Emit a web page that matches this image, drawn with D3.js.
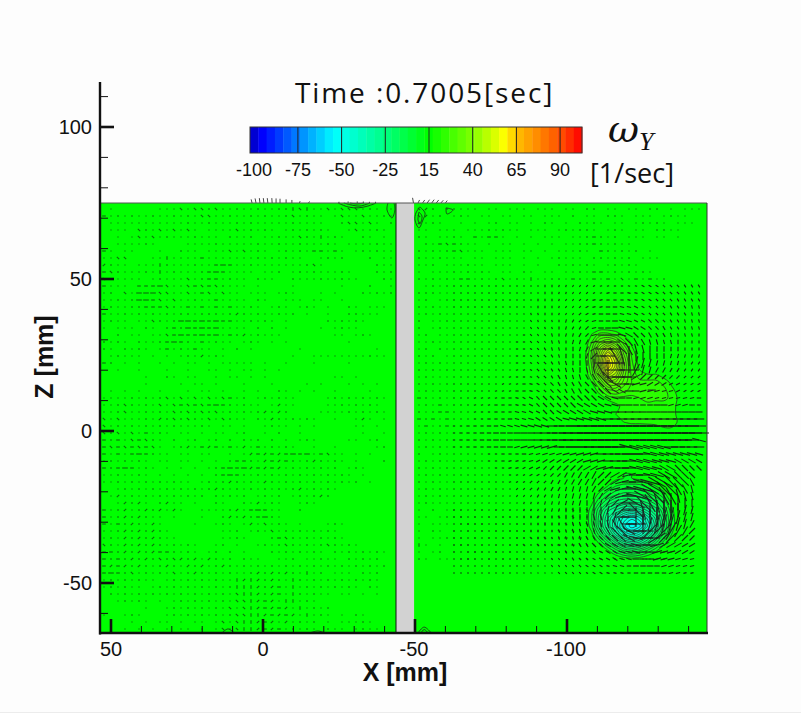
<!DOCTYPE html>
<html><head><meta charset="utf-8">
<style>html,body{margin:0;background:#fdfdfd}svg{display:block}text{fill:#111}</style>
<script src="https://cdnjs.cloudflare.com/ajax/libs/d3/7.8.5/d3.min.js"></script>
</head><body><svg id="c" width="801" height="713"></svg>
<script>
const titleText = "Time :0.7005[sec]";
const xTickValues = [50, 0, -50, -100];
const zTickValues = [100, 50, 0, -50];
const xMinorValues = [40,30,20,10,-10,-20,-30,-40,-60,-70,-80,-90,-110,-120,-130,-140];
const zMinorValues = [110,90,80,70,60,40,30,20,10,-10,-20,-30,-40,-60];
const legendValues = [-102,-75,-50,-25,0,25,50,75];
const legendLabels = ["-100","-75","-50","-25","15","40","65","90"];
const colorStops = [-102,-95,-75,-54,-25,0,25,43,50,75,87];
const colorValues = ["#0000c0","#0000ff","#0080ff","#00ffff","#00ff80","#00ff00","#80ff00","#ffff00","#ffc000","#ff5000","#ff0000"];

// vorticity; columns and rows step 2.63 mm
const upperVortexOmega = [
[0,0,0,0,0,0,0,0,0,0,0,0,0,0],
[0,4,8,8,6,3,0,0,0,0,0,0,0,0],
[0,7,16,20,16,8,3,0,0,0,0,0,0,0],
[1,10,24,34,26,14,5,1,0,0,0,0,0,0],
[2,11,28,44,34,18,7,2,0,0,0,0,0,0],
[1,10,26,46,36,20,8,3,1,0,0,0,0,0],
[0,8,20,36,30,18,9,5,4,4,2,0,0,0],
[0,4,12,22,22,15,10,8,8,8,6,3,0,0],
[0,1,6,12,14,11,9,9,10,10,8,5,2,0],
[0,0,2,5,6,6,6,7,8,8,8,6,3,0],
[0,0,0,1,3,5,6,6,6,5,5,5,3,0],
[0,0,0,1,4,6,7,6,5,4,5,5,3,0],
[0,0,0,1,3,4,5,5,5,5,6,6,3,0],
[0,0,0,0,0,0,0,0,1,2,3,3,1,0]];
const lowerVortexOmega = [
[0,0,0,-1,-3,-4,-4,-3,-2,-1,0,0,0],
[0,0,-1,-4,-7,-8,-8,-8,-6,-4,-2,0,0],
[0,-1,-5,-9,-12,-14,-14,-13,-11,-8,-5,-1,0],
[0,-3,-10,-16,-20,-22,-22,-21,-18,-14,-9,-3,0],
[0,-6,-16,-24,-28,-32,-34,-32,-27,-21,-13,-5,0],
[0,-7,-18,-28,-36,-44,-48,-44,-36,-27,-16,-6,0],
[0,-6,-18,-28,-38,-48,-54,-50,-40,-29,-17,-6,0],
[0,-3,-12,-22,-32,-40,-44,-40,-32,-23,-13,-4,0],
[0,-1,-5,-12,-20,-27,-30,-28,-22,-14,-6,-1,0],
[0,0,-1,-4,-9,-14,-16,-14,-10,-5,-1,0,0],
[0,0,0,0,-1,-3,-4,-3,-1,0,0,0,0],
[0,0,0,0,0,0,0,0,0,0,0,0,0]];
const upperOrigin = [-105.5, 34.5];
const lowerOrigin = [-105.5, -15.5];
const omegaLevels = [4,7,10,13,16,19,22,25,28,31,34,37,40,43,46,49,52];

// small contours at the plate and the walls, [X mm, Z mm]
const edgeContours = [
[[-24.7,75],[-28,73.7],[-31.3,73.4],[-34.5,74],[-37.2,75]],
[[-26.6,75],[-29.3,74.3],[-31.9,74],[-35.2,75]],
[[-28.6,75],[-30.9,74.7],[-33.2,75]],
[[-41.1,75],[-40.8,72.7],[-42.4,70.1],[-43.4,72.7],[-43.1,75]],
[[-51.6,73.7],[-50.3,71.7],[-50,69.4],[-51.3,66.8],[-52.6,69.4],[-53.3,71.7],[-51.6,73.7]],
[[-51.3,72],[-51,69.4],[-51.6,68.1],[-52.3,70.7],[-51.3,72]],
[[-60.2,73.4],[-62.5,72.7],[-60.5,71.4],[-60.2,73.4]],
[[13.5,-66.4],[11.5,-65.1],[9.5,-66.4]],
[[-15.5,-66.4],[-18,-65.8],[-20.5,-66.4]],
[[-51,-66.4],[-53,-64.5],[-55.3,-66.4]],
[[-52,-66.4],[-53,-65.3],[-54.3,-66.4]]];

// vectors clipped at the top edge of the window
const rimX = [3.6,2.3,1,-.3,-1.6,-3,-4.3,-5.6,-7.6,-9.5,-12,-15,-25,-28,-31,-33,-35,-37,-49.5,-51,-52.5,-54,-55.5,-57,-58.5,-60];
const rimU = [.3,.3,.2,.2,.2,.1,0,0,0,0,-.2,-.3,0,0,0,0,0,0,.3,-.5,-.7,-.8,-.8,-.8,-.8,-.6];
const rimV = [1.2,1.5,1.6,1.6,1.6,1.6,1.5,1.4,1.2,1,.6,.5,.4,.5,.5,.5,.4,.4,1.7,1,1,1.1,1.1,1,.9,.8];

// quiet part of the velocity field, one mark per grid cell
const quietLeft = [
" .      ...`.``:`..:..:..::|`|..`.```.:. .",
"-.:.:..:..:.:.``..:..:.:..:`.:.. .`..`..:.",
" ...........:..:...:.:.....:....  :``.`. :",
" ... `:.`.`.`. ....`.:.:. .:.:.:.  .`..:.",
"  . .`.`.:...:... :..: ..:..`:.|.:.  :. .",
"  ....:.    ....:.....:..:..:...:. ....:..",
"-. ..   .  :.. ...`.`.:. .:.:.--.-. .:.:..",
"..``   ..|....-.......:.:.:..  .:.:   : ..",
"/:.. ...|:...:..-=-..:.......:`.       :..",
"-`:...:.|.:...:-=-.... ..: .:.:...:.   :.:",
"`:.... .:...`.:--.:.. :..  :...:..:..   :.",
"-... ---=`..`-`-`:... .    .      .   :  .",
".: `.===``..`.-`.`.. ... .:.   . .   :.:.:",
"..:.:==-`.`..:..-.... :.  ... ..  .",
".:..::---`:.-.-.-.-..:. .:. .:. .  :. ...",
"-..:.:.:.:.::.:::.:/:.:..:.: .  .  ::...",
".:.. ..`:.:==-=-=--..:.:. .     :.:.:.",
". ... :. :-:=-=-=.... : : .    . .:..",
"  : .. ..`-=--=-=.-:/.:...       .. .:.",
":.:. :..:-=-:.-.:.. .:. . .        .",
":. :.:. .-.:.-.. . : .      .          .",
" .:... . . .:./.:.         .  ........:..",
"-: . .  . . .. . ..... .  .   .    .",
"  .  .   .  .  .. . .. . .",
"      .  :. ..  . .. . .         .. .",
"      .    . .. .   .   .    . .   . . .",
" . . .  .   . .. .  . .  :. . .  .    .  ",
"....:.:.:`.`.`.`.`-.: .:.:..    .:.:.:.:.",
"..:`:.:.`.`-`-`-=-:.:.. ./..    ..:.:.:. ",
"..:`..:.:.`:`:`:`.:.:.:/:/:    ....:.:.:.",
"`.`...:./:`:`:.`.`:.. :./:.:.:.  .  ./. .",
"`.:.:.:.:.:...:. .. .  .:.. . .     .. . ",
"`:`.`.-.:. .. . .. .:  . :  .        .  .",
"-:-.`-`:. : .: .: : :.: : . .:.    .. .: ",
"-`-`-`-`. .:/.-/-.-./.-.:.:.  .  .     .:",
"-.-.-=-:.. .. ..  . ./-/-/-=-=.-`.. . .",
".:.:.:. .. .. . . :--:./-/-:.:/:.:. .   :",
"-:-=-.:. . . . .:-=-=/-/-/.:.:.:.: .:.   ",
"..:..:. . . . . :-=-:.:.:.:.:.:.:.:. .",
"..:.:.:.:.:.. .:.:/:.:./:.:.:.:.:.:.: .",
"  .:.:.:.:.:.:.:/:.:.:.:.:.:/.:.:.",
" ./.:.:.:.:.:.: :.:.: .:.: .:.:/:",
"  ./:/. :/.. .  :.  :./.:.  .:.",
"-.:/.:/:/./.  ....:/.-=-..  :",
"-.:/:/:.. .   .  :/:/:-=:.",
"-.-:/:./.    .  .:. ./.`.:. .   .:.",
"..:/:/:/:.       ..: .:.`.:.:.:.:.",
".:./:/:/:..      ..:.   :-`:.:.:.:.",
"`:./:/:/:.:.:.  .: .  .:.:`:.:.:`:.:.",
"--:/:/:/--:.:. .: : .   :.:.:.:. :.:.:.:.",
"-:-:/:/:`:`/:/./:.: :..  ..: ..:.. :.:.:",
"-/-/:/:.:/:./:/.:/:.:.:.:.:.:.:.:.:.:.:.:",
"-=-:`.:.:.`.:/:.:.:..:/:/:/:.|.: ... :.:",
".:.:.:.. .:.:.:.:..|/|/:/:.|:.:.:.:.:.:.",
".:.:.. .:.:.:.:.:.:|||/:/-.|.:.:.:.:. :.",
" :.:.:.:.:.:.:.:.:.`||/:/-.|:.:.. .. . .",
"  .:.:. . .:.:.:.:.``|/-/.||.:.",
"      .  .:.:.:.:.`.`|/-/-/.|.:.:",
".  .:.   .:.:.:.:.:``||/-/-/.|.:. . :.",
" .  . . .. . .. .`.`||/-/./.:.: . ...:.",
" . . . . . .. . .`.`||/-/-.:.:. :.. .:.."];
const quietRight = [
"`/: ::... .. ... ... .. :: .. .. :: . ...",
"`/.: .:. .. .. .. ... : .. ::. ... .:..",
"/.:.  . . .: .. . :. . :.:. .. .:.:. ...",
".. ... ...:.:.. ... .:.::. .:. .. ::..",
":. ..:. -.--. . . ... ..:-:.: ... .. .",
" :.-`-:.. . .. . . . ..::-:.:..",
":.:.:-`... ... .. . ...:. -:.:.: .",
":..:... .. ... . . .:... ::.:.: ...",
"..: ...:.. ... . .  :.:.:. .:.:.",
". ...:.:.:. .. :. .. ..:.--.:.:.:.",
":.:.:.--.:.:`.:.|..::.-:.-.-.`.-.-.:",
" .:.:",":::..",".: .:",":.:..",".:.:.",": ..:",": .:.",".: ..","..:..",".: :.",
":.: .",".:.:.",":.:.:",".:...",":.:.:",".:.:.","-:.:.",".:.-.",":.:--","-:-.-",
".-.:-",".:.:.",":.:.:",".:.:.",": .:.",".:.:.",":.:.:",".:.:.",":.:..",".:.:.",".:.:.",
".:...",
". : .:. .. : . .. . .:`.`:.:.:/:/:.:.:.:",
".. .:.: . . .. .:/..`.`.:.:.:/:/:.:.:.",
". ... .:.: .. .. .|.:`:.`.:.:.:./.:.:.",
". :. . . . . ..:.. .`.`.:.:.:.:.:.:.",
". ..:.. . . . ::`:`.:-.-.:.:.:.:.:.:",
"|. . .:. . . ..`.`:.-.-.:.:.:. :.:.:",
". .: . .:. : . .: . .:. .:.:. .:.:.:.",
":. .. .:. . . .. . . : .: . :.. ...:"];

// strong part of the field: orientation in 15 degree steps (hex), then length class
const flowOrient = [
"66666 666666 666655 443211 00bbaa a99988 8",
"66666 666666 666655 443211 00bbaa a99988 8",
"66666 666666 666654 432110 00bbaa 999888 8",
"66666 666666 766654 432110 0bbaa9 998887 7",
"00000 000777 776654 432100 0bbaa9 998887 7",
"00000 000000 877765 432100 0bbaa9 998877 7",
"00000 000000 887765 443100 0bbaa9 988877 7",
"00000 000000 988765 543100 0ba998 887777 6",
"00000 000000 998776 554100 0a9887 777666 6",
"00000 000000 a98776 654200 098776 666666 6",
"00000 000000 a99876 665300 876666 665555 5",
"00000 000000 a99877 666600 066555 555554 4",
"00000 000011 a99887 767786 000455 444444 4",
"00000 001100 b99887 778899 000233 333333 3",
"11111 112110 ba9988 889999 a00112 222222 2",
"11111 111100 ba9998 889999 aa0011 111222 2",
"111 111100 baa999 999999 aab001 111111 11000",
"111 111000 bba999 999aaa abb000 000011 10000",
"000 100000 bbaa99 aaaaab bb0000 000000 00000",
"000 000000 bbbaaa abbbbb b00000 000000 00000",
"000000 0bbbbb bb0000 000000 000000 000000",
"000000 000000 000000 000000 000000 000000",
"000000 000000 000000 000000 000000 00000b",
"000000 000111 111000 000000 0bbbbb b00000",
"00000 000000 111111 111100 00000b bbbbbb b",
"00000 000111 122222 221110 000bbb bbbaaa a",
"00000 000112 223333 332211 000bbb baa999 9",
"0000000 001222 333444 443322 100bba a999",
"1111111 112233 344444 443321 00bbaa 9998",
"2222222 223334 444555 543211 0bbaa9 9887",
"3333333 334444 455555 554321 0ba998 8777",
"4444444 445555 555555 665432 0a9876 6666",
"5555555 555555 555666 666543 097666 6655",
"6666666 666666 666666 677650 066665 5555",
"6666666 666666 666677 777788 006555 5554",
"6666666 666666 667777 778899 a00333 4443",
"6666666 666666 677777 889999 ab0023 3333",
"6666666 666677 777888 899aaa bb0012 2222",
"6666666 666777 778889 99aaab bb0011 1222",
"6666666 666777 788889 9aaaab b00011 1111",
"6666666 666777 888899 aaabbb 000001 1111",
"6666666 667778 889999 aaabbb 000000 1111"];
const flowSpeed = [
"00000 000000 001111 111111 111122 222222 2",
"00000 000000 001111 111112 222222 222222 2",
"00000 000000 011111 111222 222222 222222 2",
"00000 000000 011111 112223 333322 222222 2",
"00000 000000 111111 122233 333322 222222 2",
"00000 000000 111112 222333 444333 322222 2",
"00000 000000 111122 223344 555443 332222 2",
"00000 000001 111222 233455 666544 333222 2",
"00000 000011 111222 334566 777654 433322 2",
"00000 000011 112222 334677 888765 443322 2",
"00000 000011 112223 334678 999765 443322 2",
"00000 000011 112223 344689 909876 443322 2",
"00000 000011 122223 344589 909875 443322 2",
"00000 000111 122233 344578 998765 443322 2",
"00000 001112 222333 344567 887655 443322 2",
"00000 011122 222333 444556 666554 433322 2",
"000 111122 223344 444555 555544 443333 33332",
"000 111222 223344 445555 555554 445544 44333",
"000 111222 333344 455566 666666 555555 55544",
"000 112223 334444 556677 777777 777777 77766",
"112223 344455 667788 899999 999999 999888",
"122233 444555 677889 999999 999999 999999",
"122233 444555 677889 999999 999999 999888",
"112223 344455 667788 889999 998888 888777",
"00000 112223 334445 566677 788888 877777 6",
"00000 112222 334445 556667 778888 777666 5",
"00000 011222 333445 556677 788888 777665 5",
"0000000 011122 233445 566677 888888 8776",
"0000000 011122 233445 566678 889999 9876",
"0000000 001122 233344 455678 899999 9876",
"0000000 001112 223344 455678 899999 9876",
"0000000 000111 222334 455678 899999 9876",
"0000000 000111 222334 455678 899899 9876",
"0000000 000111 122334 455678 898899 9876",
"0000000 000011 122233 445678 899899 9876",
"0000000 000011 112233 445678 899999 9876",
"0000000 000001 112223 344567 889998 8765",
"0000000 000001 111223 344556 778887 7655",
"0000000 000000 111222 233445 566776 6554",
"0000000 000000 011122 223344 455665 5443",
"0000000 000000 011112 222233 344544 4333",
"0000000 000000 001111 122222 233333 3322"];
const speedLengths = [1.3,2.3,3.2,4.4,5.6,7,8.5,10.5,14,20];

const svg = d3.select("#c");
const x = d3.scaleLinear().domain([50,-100]).range([111,567]);
const z = d3.scaleLinear().domain([100,-50]).range([127,583]);
const L=100,R=707,T=z(75),B=633;
const cellMm = 7/3.04;
const color = d3.scaleLinear().domain(colorStops).range(colorValues).interpolate(d3.interpolateRgb);
const leg = d3.scaleLinear().domain([0,25]).range([429,472.7]);

svg.append("rect").attr("y",712).attr("width",801).attr("height",1).attr("fill","#ececec");
const defs = svg.append("defs");
defs.append("clipPath").attr("id","plot").append("rect").attr("x",L).attr("y",T).attr("width",R-L).attr("height",B-T);
svg.append("rect").attr("x",L).attr("y",T).attr("width",R-L).attr("height",B-T).attr("fill","#00ff00");

// filled vorticity bands
const step = 8/3.04;
function ringLine(){return d3.line().x(p=>p[0]).y(p=>p[1]).curve(d3.curveCatmullRomClosed.alpha(.5));}
const linesG=[];
function drawVortex(m,origin,sign){
  const h=m.length,w=m[0].length;
  const flat=m.flat().map(v=>v*sign);
  const cs=d3.contours().size([w,h]).smooth(true).thresholds(omegaLevels)(flat);
  const g=svg.append("g").attr("clip-path","url(#plot)");
  cs.forEach(c=>{
    c.coordinates.forEach(poly=>{
      poly.forEach(ring=>{
        const pts=ring.slice(0,-1).map(p=>[x(origin[0]-(p[0]-.5)*step),z(origin[1]-(p[1]-.5)*step)]);
        if(pts.length<3)return;
        g.append("path").attr("d",ringLine()(pts)).attr("fill",color(sign*(c.value+1.5))).attr("stroke","none");
        linesG.push(ringLine()(pts));
      });
    });
  });
}
drawVortex(upperVortexOmega,upperOrigin,1);
drawVortex(lowerVortexOmega,lowerOrigin,-1);

// plate
svg.append("rect").attr("x",x(-43.75)).attr("y",T).attr("width",x(-49.7)-x(-43.75)).attr("height",B-T-1).attr("fill","#d2d2d2");
svg.append("line").attr("x1",x(-43.75)).attr("x2",x(-43.75)).attr("y1",T).attr("y2",B).attr("stroke","#111").attr("stroke-width",1);

// velocity field
const quietG=svg.append("g").attr("stroke","#111").attr("stroke-width",1.1).attr("stroke-opacity",.62);
const fieldG=svg.append("g").attr("stroke","#111").attr("stroke-width",1.15).attr("stroke-opacity",.85);
const X0=x.invert(104),Z0=z.invert(209);
const quietMarks={".":[0,1.2],":":[0,1.9],"-":[0,3.6],"=":[0,5.6],"/":[45,3.4],"`":[135,3.4],"|":[90,3.6]};
function mark(g,mmX,mmZ,deg,len){
  const cx=x(mmX),cy=z(mmZ),a=deg*Math.PI/180;
  g.append("line").attr("x1",cx-Math.cos(a)*len/2).attr("y1",cy+Math.sin(a)*len/2)
    .attr("x2",cx+Math.cos(a)*len/2).attr("y2",cy-Math.sin(a)*len/2);
}
quietLeft.forEach((row,j)=>[...row].slice(0,42).forEach((ch,i)=>{
  if(quietMarks[ch]) mark(quietG,X0-i*cellMm,Z0-j*cellMm,quietMarks[ch][0],quietMarks[ch][1]);
}));
quietRight.forEach((row,j)=>[...row].slice(0,41).forEach((ch,i)=>{
  if(quietMarks[ch]) mark(quietG,X0-(45+i)*cellMm,Z0-j*cellMm,quietMarks[ch][0],quietMarks[ch][1]);
}));
flowOrient.forEach((row,j)=>{
  const o=row.replace(/ /g,""),s=flowSpeed[j].replace(/ /g,"");
  [...o].slice(0,36).forEach((ch,i)=>{
    mark(fieldG,X0-(50+i)*cellMm,Z0-(11+j)*cellMm,parseInt(ch,16)*15,speedLengths[+s[i]]);
  });
});
// clipped rim vectors
rimX.forEach((v,i)=>{
  fieldG.append("line").attr("x1",x(v)).attr("y1",T).attr("x2",x(v+rimU[i])).attr("y2",z(75+rimV[i])).attr("stroke-width",.9);
});

// contour lines
const cg=svg.append("g").attr("clip-path","url(#plot)").attr("fill","none").attr("stroke","#2a2a2a").attr("stroke-width",1).attr("stroke-opacity",.72);
linesG.forEach(d=>cg.append("path").attr("d",d));
const el=d3.line().x(p=>x(p[0])).y(p=>z(p[1])).curve(d3.curveCatmullRom);
const eg=svg.append("g").attr("fill","none").attr("stroke","#1c3a1c").attr("stroke-width",.9);
edgeContours.forEach(c=>eg.append("path").attr("d",el(c)));

// frame and ticks
const fr=svg.append("g").attr("stroke","#111");
fr.append("line").attr("x1",L).attr("x2",R).attr("y1",T).attr("y2",T).attr("stroke","#555").attr("stroke-width",1);
fr.append("line").attr("x1",R).attr("x2",R).attr("y1",T).attr("y2",B).attr("stroke","#333").attr("stroke-width",1);
fr.append("line").attr("x1",L).attr("x2",L).attr("y1",82).attr("y2",B+1.5).attr("stroke-width",2.4);
fr.append("line").attr("x1",L-1).attr("x2",R+1).attr("y1",B).attr("y2",B).attr("stroke-width",2.6);
zTickValues.forEach(v=>fr.append("line").attr("x1",L).attr("x2",L+14).attr("y1",z(v)).attr("y2",z(v)).attr("stroke-width",2.6));
zMinorValues.forEach(v=>fr.append("line").attr("x1",L).attr("x2",L+8).attr("y1",z(v)).attr("y2",z(v)).attr("stroke-width",1));
xTickValues.forEach(v=>fr.append("line").attr("x1",x(v)).attr("x2",x(v)).attr("y1",B).attr("y2",B-14).attr("stroke-width",2.6));
xMinorValues.forEach(v=>fr.append("line").attr("x1",x(v)).attr("x2",x(v)).attr("y1",B).attr("y2",B-7).attr("stroke-width",1));

const sans="'Liberation Sans',Arial,sans-serif";
const tx=svg.append("g").attr("font-family",sans);
zTickValues.forEach(v=>tx.append("text").attr("x",92).attr("y",z(v)+7).attr("text-anchor","end").attr("font-size",20).text(v));
xTickValues.forEach(v=>tx.append("text").attr("x",x(v)+(v<0?-1:0)).attr("y",656).attr("text-anchor","middle").attr("font-size",20).text(v));
tx.append("text").attr("x",405).attr("y",681).attr("text-anchor","middle").attr("font-size",25).attr("font-weight",700).text("X [mm]");
tx.append("text").attr("transform","translate(53,357) rotate(-90)").attr("text-anchor","middle").attr("font-size",25).attr("font-weight",700).text("Z [mm]");

// title
svg.append("text").attr("x",295).attr("y",103).attr("font-family","'Open Sans',sans-serif").attr("font-size",28).attr("letter-spacing",1.9).text(titleText);

// legend
const bandW=4.75, barL=250, barR=582, barT=127, barB=153;
const lg=svg.append("g");
d3.range(leg.invert(barL),leg.invert(barR),bandW).forEach(v=>{
  lg.append("rect").attr("x",leg(v)).attr("y",barT).attr("width",Math.min(leg(v+bandW),barR)-leg(v)+.4).attr("height",barB-barT).attr("fill",color(v+bandW/2));
});
legendValues.forEach((v,i)=>{
  const px=Math.max(leg(v),barL);
  if(i>0) lg.append("line").attr("x1",px).attr("x2",px).attr("y1",barT).attr("y2",barB).attr("stroke","#222");
  lg.append("text").attr("x",i==0?254:px).attr("y",176).attr("text-anchor","middle").attr("font-family",sans).attr("font-size",18).text(legendLabels[i]);
});
lg.append("rect").attr("x",barL).attr("y",barT).attr("width",barR-barL).attr("height",barB-barT).attr("fill","none").attr("stroke","#333");

// colour-bar caption
const om=svg.append("text").attr("x",608).attr("y",142).attr("font-family","'DejaVu Serif',serif").attr("font-style","italic").attr("font-size",38);
om.append("tspan").text("ω");
om.append("tspan").attr("dy",8).attr("font-size",26).attr("font-family","'Liberation Serif',serif").text("Y");
svg.append("text").attr("x",590).attr("y",183).attr("font-family","'Open Sans',sans-serif").attr("font-size",27).text("[1/sec]");
</script></body></html>
